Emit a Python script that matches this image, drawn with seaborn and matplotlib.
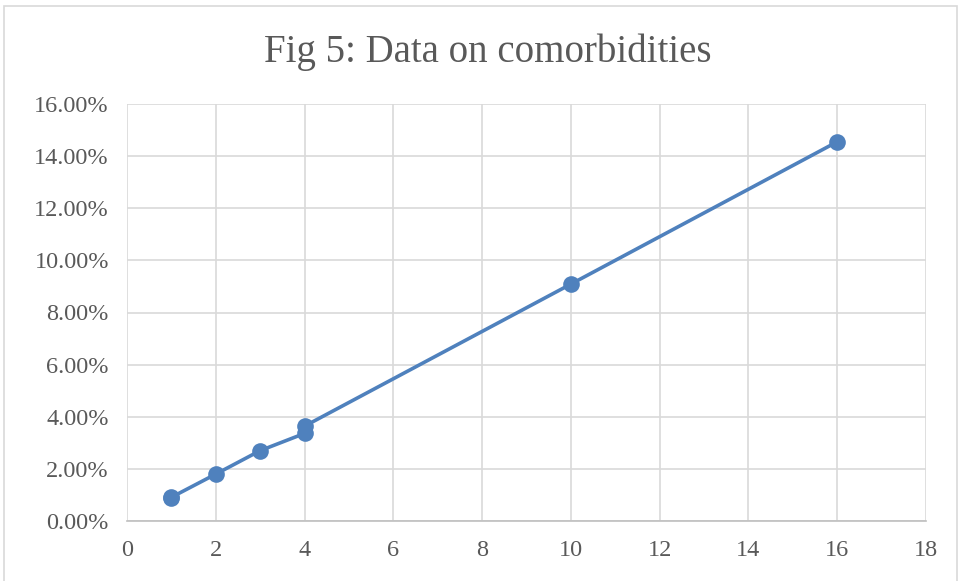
import matplotlib
matplotlib.use("Agg")
import matplotlib.pyplot as plt
import matplotlib.ticker as mticker
from matplotlib.patches import Rectangle
import seaborn as sns
import pandas as pd

# Data
comorbidity_count = [1, 1, 2, 3, 4, 4, 10, 16]
percentage = [0.0090, 0.0091, 0.0180, 0.0270, 0.0336, 0.0364, 0.0909, 0.1455]
x_ticks = [0, 2, 4, 6, 8, 10, 12, 14, 16, 18]
y_ticks = [0.0, 0.02, 0.04, 0.06, 0.08, 0.10, 0.12, 0.14, 0.16]
title = "Fig 5: Data on comorbidities"

df = pd.DataFrame({"count": comorbidity_count, "pct": percentage})

sns.set_style("white")
plt.rcParams["font.family"] = ["Liberation Serif", "DejaVu Serif"]

fig = plt.figure(figsize=(9.6, 5.81), dpi=100)
ax = fig.add_axes([127 / 960, 60 / 581, 799 / 960, 417 / 581])

# outer chart border
fig.patches.append(Rectangle((4 / 960, -0.05), 953 / 960, 1 - 6 / 581 + 0.05,
                             transform=fig.transFigure, fill=False,
                             edgecolor="#d9d9d9", linewidth=1.2))

line_color = "#4F81BD"
sns.lineplot(data=df, x="count", y="pct", sort=False, ax=ax, color=line_color,
             linewidth=2.6, marker="o", markersize=12, markeredgewidth=0,
             estimator=None)

ax.set_xlim(0, 18)
ax.set_ylim(0, 0.16)
ax.set_xticks(x_ticks)
ax.set_yticks(y_ticks)
ax.yaxis.set_major_formatter(mticker.FuncFormatter(lambda v, p: f"{v*100:.2f}%"))
ax.grid(True, color="#d9d9d9", linewidth=1.2)
ax.set_axisbelow(True)
for s in ["top", "right", "left"]:
    ax.spines[s].set_visible(False)
ax.spines["bottom"].set_color("#bfbfbf")
ax.spines["bottom"].set_linewidth(1.2)
ax.tick_params(axis="both", length=0, labelsize=17.5, labelcolor="#595959")
ax.tick_params(axis="x", pad=14)
ax.tick_params(axis="y", pad=13)
ax.set_xlabel("")
ax.set_ylabel("")

fig.text(0.508, 0.91, title, ha="center", va="center", fontsize=28, color="#595959")

fig.savefig("out.png", dpi=100)
